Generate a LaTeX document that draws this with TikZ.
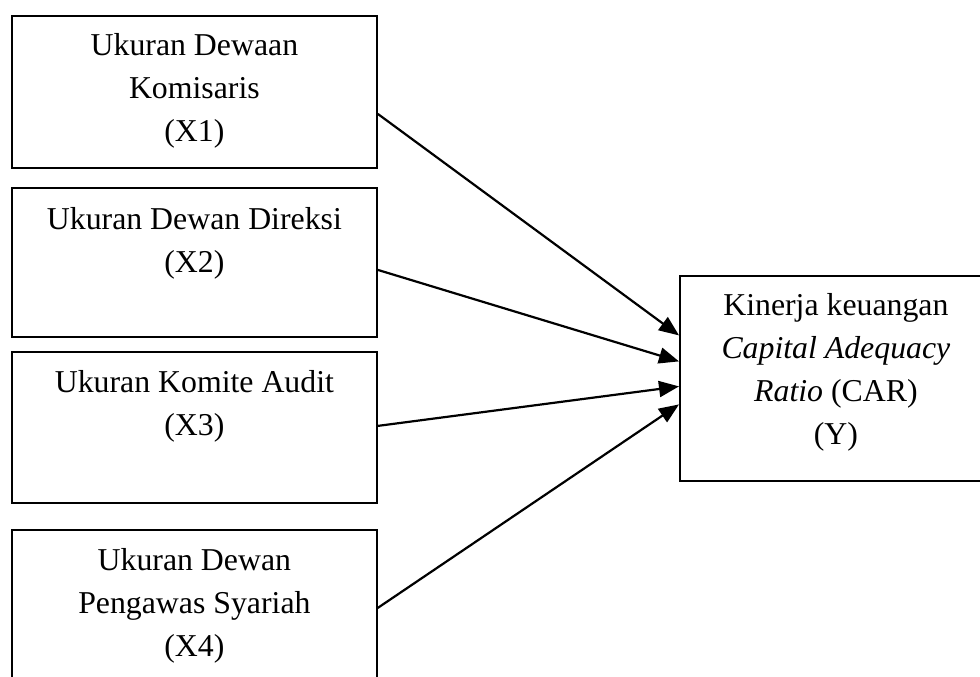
\documentclass[tikz,border=0pt]{standalone}
\usepackage{fontspec}
\setmainfont{Liberation Serif}
\usetikzlibrary{arrows.meta}
\tikzset{
  varbox/.style={draw, line width=1.8pt, minimum width=365pt, minimum height=152pt,
    anchor=north west, inner sep=0pt},
  vartext/.style={align=center, inner sep=0pt, anchor=north,
    font=\fontsize{31.8}{43}\selectfont},
  arr/.style={-{Triangle[length=20pt,width=16pt]}, line width=2.2pt},
}
\begin{document}
\begin{tikzpicture}[x=1pt,y=-1pt]
  \useasboundingbox (0,0) rectangle (980,677);
  % variabel independen
  \node[varbox] (x1) at (11,15) {};
  \node[varbox, minimum height=149pt] (x2) at (11,187) {};
  \node[varbox, minimum height=151pt] (x3) at (11,351) {};
  \node[varbox] (x4) at (11,529) {};
  % variabel dependen
  \node[varbox, minimum width=312pt, minimum height=205pt] (y) at (679,275) {};
  \node[vartext] (tx1) at ([yshift=-18.5]x1.north) {Ukuran Dewaan\\Komisaris\\(X1)};
  \node[vartext] (tx2) at ([yshift=-20.5]x2.north) {Ukuran Dewan Direksi\\(X2)};
  \node[vartext] (tx3) at ([yshift=-19.5]x3.north) {Ukuran Komite Audit\\(X3)};
  \node[vartext] (tx4) at ([yshift=-19.5]x4.north) {Ukuran Dewan\\Pengawas Syariah\\(X4)};
  \node[vartext] (ty) at ([yshift=-18.5]y.north)
    {Kinerja keuangan\\\textit{Capital Adequacy}\\\textit{Ratio} (CAR)\\(Y)};
  \foreach \v/\a/\b in {x1/-22/43, x2/-7.5/17, x3/1.5/-8, x4/-2/-26}
    { \draw[arr] ([yshift=\a]\v.east) -- ([yshift=\b]y.west); }
\end{tikzpicture}
\end{document}
